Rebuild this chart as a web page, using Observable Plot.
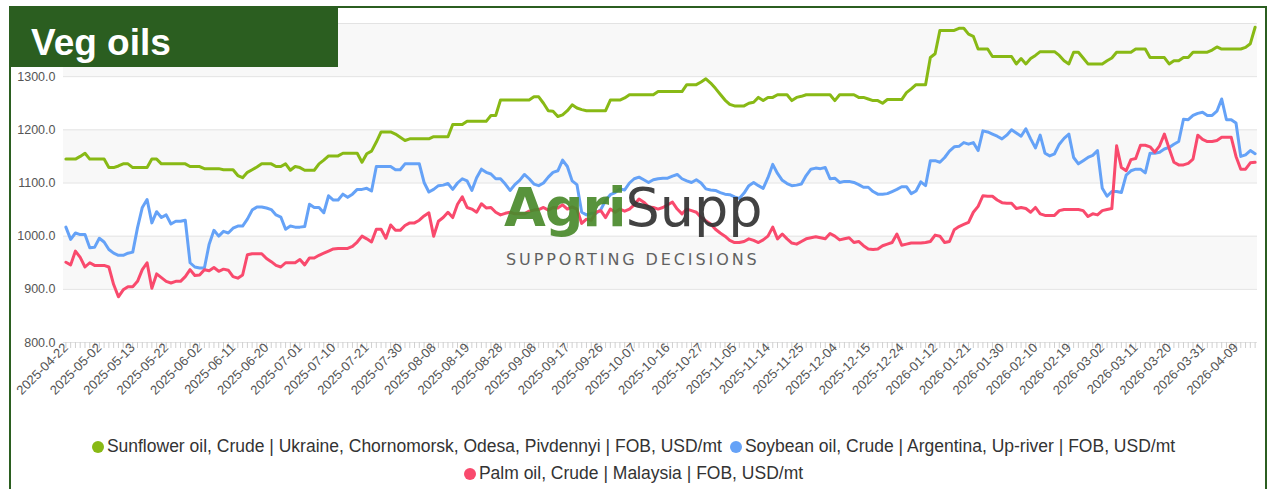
<!DOCTYPE html>
<html>
<head>
<meta charset="utf-8">
<script src="https://cdn.jsdelivr.net/npm/d3@7"></script>
<script src="https://cdn.jsdelivr.net/npm/@observablehq/plot@0.6"></script>
<style>
  html, body { margin: 0; padding: 0; background: #fff; }
  #wrap { position: relative; width: 1267px; height: 489px; overflow: hidden; background: #fff; font-family: "Liberation Sans", Arial, sans-serif; }
  #frame { position: absolute; left: 9px; top: 6px; width: 1254px; height: 500px; border-top: 2px solid #2b5e20; border-left: 2px solid #2b5e20; border-right: 2px solid #2b5e20; z-index: 5; pointer-events: none; }
  #title { position: absolute; left: 10px; top: 7px; width: 328px; height: 60px; background: #2b5e20; z-index: 6; }
  #title span { position: absolute; left: 21px; top: 17px; line-height: 1; font-size: 37px; font-weight: bold; color: #fff; }
  #chart { position: absolute; left: 0; top: 0; }
  #logo { position: absolute; left: 504px; top: 181px; z-index: 3; opacity: 0.92; font-family: "DejaVu Sans", sans-serif; }
  #logo .big { font-size: 54px; line-height: 1; white-space: nowrap; }
  #logo .agri { color: #4a8a2c; font-weight: bold; letter-spacing: -1px; }
  #logo .supp { color: #333; font-weight: normal; }
  #logo .tag { font-size: 16px; letter-spacing: 2.9px; color: #555; margin-top: 15px; margin-left: 2px; white-space: nowrap; }
  .legend { position: absolute; left: 0; width: 1267px; display: flex; justify-content: center; align-items: center; font-size: 17.5px; color: #333; white-space: nowrap; }
  .legend .item { display: flex; align-items: center; margin: 0 4px; }
  .legend .dot { width: 12px; height: 12px; border-radius: 50%; margin-right: 3px; }
</style>
</head>
<body>
<div id="wrap">
  <div id="chart"></div>
  <div id="logo"><div class="big"><span class="agri">Agri</span><span class="supp">Supp</span></div><div class="tag">SUPPORTING DECISIONS</div></div>
  <div id="title"><span>Veg oils</span></div>
  <div id="frame"></div>
  <div class="legend" id="legend1" style="top:436px"></div>
  <div class="legend" id="legend2" style="top:463px"></div>
</div>
<script>
// Categories: business days from first to last date, minus exchange holidays
const startDate = "2025-04-22";
const endDate = "2026-04-15";
const holidays = ["2025-05-01", "2025-12-25", "2025-12-26", "2025-12-31", "2026-01-01", "2026-01-02", "2026-01-05"];

const tickLabels = ["2025-04-22","2025-05-02","2025-05-13","2025-05-22","2025-06-02","2025-06-11","2025-06-20","2025-07-01","2025-07-10","2025-07-21","2025-07-30","2025-08-08","2025-08-19","2025-08-28","2025-09-08","2025-09-17","2025-09-26","2025-10-07","2025-10-16","2025-10-27","2025-11-05","2025-11-14","2025-11-25","2025-12-04","2025-12-15","2025-12-24","2026-01-12","2026-01-21","2026-01-30","2026-02-10","2026-02-19","2026-03-02","2026-03-11","2026-03-20","2026-03-31","2026-04-09"];

const yGrid = [800, 900, 1000, 1100, 1200, 1300, 1400];
const yLabels = [800, 900, 1000, 1100, 1200, 1300];

const seriesNames = [
  "Sunflower oil, Crude | Ukraine, Chornomorsk, Odesa, Pivdennyi | FOB, USD/mt",
  "Soybean oil, Crude | Argentina, Up-river | FOB, USD/mt",
  "Palm oil, Crude | Malaysia | FOB, USD/mt"
];
const seriesColors = ["#88b915", "#65a2f7", "#f94a6d"];

const sunflower = [
1145,1145,1145,1150,1156,1145,1145,1145,1145,1129,
1129,1132,1136,1136,1129,1129,1129,1129,1145,1145,
1136,1136,1136,1136,1136,1136,1131,1131,1131,1127,
1127,1127,1127,1125,1125,1125,1114,1110,1120,1125,
1130,1136,1136,1136,1131,1131,1136,1124,1131,1129,
1124,1124,1124,1136,1143,1151,1151,1151,1156,1156,
1156,1156,1139,1155,1160,1177,1196,1196,1196,1192,
1186,1180,1183,1183,1183,1183,1183,1187,1187,1187,
1187,1210,1210,1210,1216,1216,1216,1216,1216,1227,
1227,1256,1256,1256,1256,1256,1256,1256,1262,1262,
1250,1236,1235,1225,1228,1236,1247,1241,1238,1236,
1236,1236,1236,1236,1256,1256,1256,1260,1266,1266,
1266,1266,1266,1266,1272,1272,1272,1272,1272,1272,
1285,1285,1285,1290,1296,1288,1278,1267,1256,1248,
1245,1245,1245,1250,1252,1261,1255,1261,1261,1266,
1266,1266,1255,1261,1263,1266,1266,1266,1266,1266,
1266,1255,1266,1266,1266,1266,1261,1261,1258,1255,
1255,1250,1257,1257,1257,1257,1270,1277,1285,1285,
1285,1336,1343,1387,1387,1387,1387,1391,1391,1380,
1376,1352,1352,1352,1338,1338,1338,1338,1338,1324,
1334,1324,1334,1340,1347,1347,1347,1347,1340,1330,
1324,1346,1346,1335,1324,1324,1324,1324,1330,1335,
1346,1346,1346,1346,1352,1352,1352,1336,1336,1336,
1336,1324,1330,1330,1336,1336,1346,1346,1346,1346,
1350,1356,1352,1352,1352,1352,1352,1355,1362,1393];

const soybean = [
1017,994,1006,1003,1003,978,979,996,989,975,
968,964,964,968,970,1016,1054,1069,1025,1046,
1035,1040,1023,1028,1028,1030,950,942,940,940,
985,1011,1000,1009,1006,1015,1019,1019,1032,1049,
1055,1055,1053,1050,1040,1036,1013,1019,1017,1017,
1018,1060,1054,1054,1044,1076,1068,1068,1079,1073,
1079,1088,1088,1090,1085,1131,1131,1131,1131,1125,
1125,1136,1136,1136,1136,1101,1083,1088,1095,1096,
1099,1088,1100,1108,1104,1086,1110,1126,1120,1117,
1108,1108,1098,1086,1097,1105,1116,1108,1098,1095,
1100,1111,1120,1123,1143,1131,1104,1097,1045,1040,
1043,1043,1050,1067,1078,1082,1089,1087,1100,1108,
1111,1106,1101,1106,1108,1109,1109,1113,1116,1108,
1104,1101,1106,1100,1089,1087,1086,1082,1079,1078,
1074,1071,1081,1095,1101,1095,1090,1110,1135,1118,
1105,1099,1095,1096,1098,1114,1126,1128,1127,1129,
1108,1109,1101,1103,1103,1101,1097,1092,1092,1084,
1079,1079,1080,1084,1088,1093,1093,1080,1085,1102,
1095,1142,1142,1139,1148,1160,1168,1169,1176,1173,
1176,1161,1198,1196,1192,1188,1183,1190,1200,1194,
1188,1202,1183,1166,1190,1156,1151,1155,1173,1184,
1192,1148,1136,1142,1148,1152,1161,1090,1075,1084,
1084,1082,1115,1123,1126,1126,1119,1156,1156,1158,
1164,1167,1173,1178,1220,1219,1227,1231,1233,1227,
1227,1235,1258,1219,1219,1213,1150,1153,1161,1155];

const palm = [
951,946,972,960,942,950,945,945,945,942,
909,886,899,905,905,915,937,950,902,929,
922,915,912,915,915,924,937,926,927,937,
935,941,934,938,936,924,921,927,965,967,
967,967,958,952,945,942,950,950,950,956,
946,959,959,964,968,972,976,977,977,977,
981,989,1000,995,989,1013,1013,996,1021,1011,
1011,1020,1025,1025,1030,1038,1044,1000,1028,1035,
1045,1035,1060,1074,1054,1051,1045,1061,1053,1054,
1045,1040,1043,1045,1042,1042,1042,1047,1049,1050,
1054,1049,1054,1053,1059,1051,1055,1051,1024,1032,
1030,1045,1048,1035,1051,1045,1051,1047,1051,1059,
1070,1064,1055,1054,1051,1054,1059,1064,1051,1042,
1051,1048,1045,1035,1029,1023,1013,1006,1000,992,
988,988,990,995,992,988,993,1000,1017,995,
1004,995,987,985,990,995,997,999,997,995,
1005,1000,993,995,997,988,990,982,976,975,
976,982,985,988,1004,983,985,987,987,987,
988,990,1002,1000,988,990,1012,1018,1022,1026,
1045,1056,1076,1075,1075,1068,1063,1062,1062,1052,
1054,1052,1045,1054,1042,1039,1039,1039,1048,1050,
1050,1050,1050,1048,1037,1042,1040,1048,1050,1052,
1170,1129,1123,1144,1146,1171,1171,1168,1158,1170,
1192,1165,1139,1134,1134,1137,1145,1190,1182,1178,
1178,1180,1186,1186,1186,1150,1126,1126,1138,1139];

// build the category list
const fmt = d3.utcFormat("%Y-%m-%d");
const dates = [];
for (let d = new Date(startDate + "T00:00:00Z"); fmt(d) <= endDate; d = new Date(d.getTime() + 86400000)) {
  const wd = d.getUTCDay();
  const s = fmt(d);
  if (wd !== 0 && wd !== 6 && !holidays.includes(s)) dates.push(s);
}

const seriesValues = [sunflower, soybean, palm];
const rows = [];
seriesValues.forEach((vals, k) => {
  vals.forEach((v, i) => { if (i < dates.length) rows.push({date: dates[i], value: v, series: seriesNames[k]}); });
});

const bands = [[1300, 1400], [1100, 1200], [900, 1000]];

const chart = Plot.plot({
  width: 1267,
  height: 410,
  marginLeft: 63,
  marginRight: 10,
  marginTop: 23,
  marginBottom: 68,
  style: {fontFamily: "'Liberation Sans', Arial, sans-serif", background: "transparent", overflow: "visible"},
  x: {type: "point", domain: dates, label: null},
  y: {domain: [800, 1400], label: null},
  color: {domain: seriesNames, range: seriesColors},
  marks: [
    Plot.rect(bands, {y1: d => d[0], y2: d => d[1], fill: "#f8f8f8"}),
    Plot.ruleY(yGrid, {stroke: "#e3e3e3", strokeWidth: 1}),
    Plot.axisY(yLabels, {tickSize: 0, tickPadding: 8, tickFormat: d => d.toFixed(1), fontSize: 12.5, fill: "#555", label: null}),
    Plot.axisX(dates, {tickSize: 6, tickFormat: () => "", stroke: "#d0d0d0", label: null}),
    Plot.axisX(tickLabels, {tickSize: 0, tickPadding: 3, tickRotate: -45, fontSize: 13, fill: "#555", label: null}),
    Plot.line(rows, {x: "date", y: "value", z: "series", stroke: "series", strokeWidth: 3, strokeLinejoin: "round", strokeLinecap: "round"})
  ]
});
document.getElementById("chart").appendChild(chart);

function legendItem(k) {
  const it = document.createElement("div");
  it.className = "item";
  const dot = document.createElement("span");
  dot.className = "dot";
  dot.style.background = seriesColors[k];
  const tx = document.createElement("span");
  tx.textContent = seriesNames[k];
  it.appendChild(dot); it.appendChild(tx);
  return it;
}
document.getElementById("legend1").appendChild(legendItem(0));
document.getElementById("legend1").appendChild(legendItem(1));
document.getElementById("legend2").appendChild(legendItem(2));
</script>
</body>
</html>
